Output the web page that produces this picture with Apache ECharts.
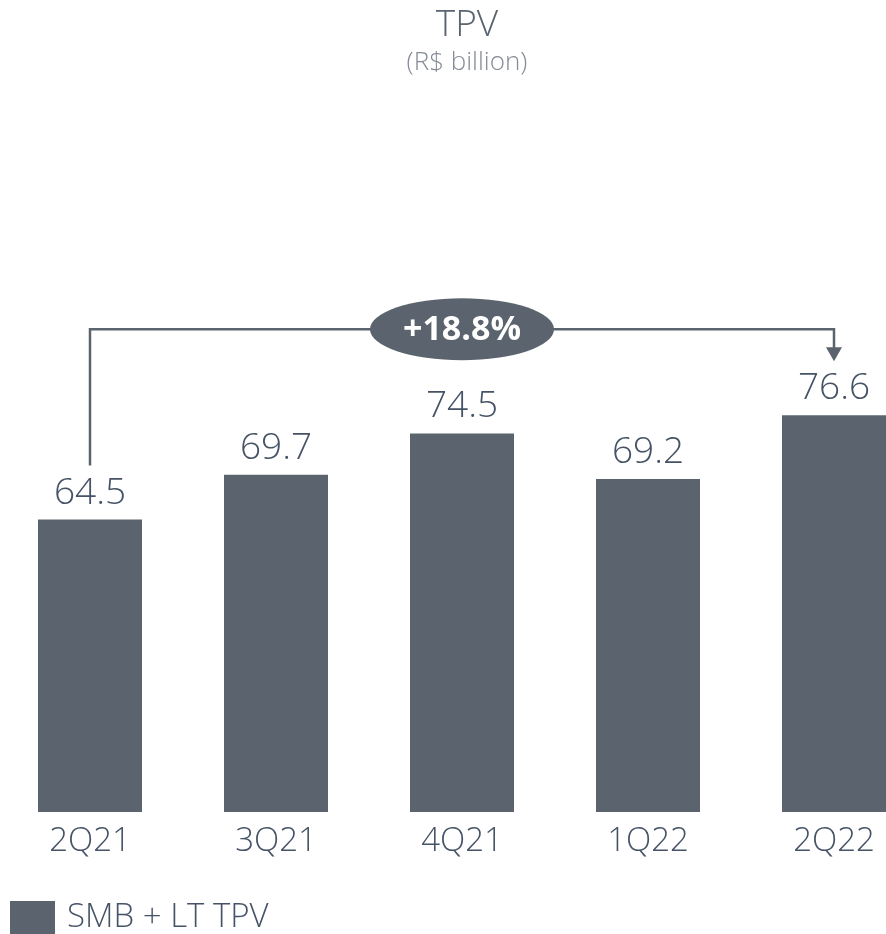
<!DOCTYPE html>
<html>
<head>
<meta charset="utf-8">
<script src="https://cdn.jsdelivr.net/npm/echarts@6/dist/echarts.min.js"></script>
<style>
  html, body { margin: 0; padding: 0; background: #fff; }
  #main { width: 886px; height: 934px; }
</style>
</head>
<body>
<div id="main"></div>
<script>
// data
var quarters = ['2Q21', '3Q21', '4Q21', '1Q22', '2Q22'];
var tpvValues = [64.5, 69.7, 74.5, 69.2, 76.6];
var growthLabel = '+18.8%';

var barColor = '#5b646e';
var textColor = '#465366';
var fontName = 'Open Sans';

var myChart = echarts.init(document.getElementById('main'));
var option = {
    animation: false,
    title: {
        text: 'TPV',
        subtext: '(R$ billion)',
        left: 462,
        top: 2,
        textAlign: 'center',
        itemGap: 6,
        textStyle: { fontFamily: fontName, fontWeight: 300, fontSize: 37, color: '#5a6470' },
        subtextStyle: { fontFamily: fontName, fontWeight: 300, fontSize: 26, color: '#858c96' }
    },
    legend: {
        left: 5,
        top: 896,
        itemWidth: 45,
        itemHeight: 33,
        itemGap: 10,
        icon: 'rect',
        data: ['SMB + LT TPV'],
        textStyle: { fontFamily: fontName, fontWeight: 300, fontSize: 33, color: textColor, padding: [0, 0, 0, 7] }
    },
    grid: {
        left: -3,
        width: 930,
        top: 214,
        bottom: 122,
        outerBoundsMode: 'none'
    },
    xAxis: {
        type: 'category',
        data: quarters,
        axisLine: { show: false },
        axisTick: { show: false },
        axisLabel: { fontFamily: fontName, fontWeight: 300, fontSize: 33, color: textColor, margin: 13 }
    },
    yAxis: {
        type: 'value',
        min: 30.5,
        max: 100,
        show: false,
        splitLine: { show: false }
    },
    series: [{
        name: 'SMB + LT TPV',
        type: 'bar',
        data: tpvValues,
        barWidth: 104,
        itemStyle: { color: barColor },
        label: {
            show: true,
            position: 'top',
            distance: 8,
            fontFamily: fontName,
            fontWeight: 300,
            fontSize: 37,
            color: textColor,
            formatter: function (p) { return p.value.toFixed(1); }
        }
    }]
};
myChart.setOption(option);

// growth bracket from first to last quarter, positioned from the scales
var first = myChart.convertToPixel({ seriesIndex: 0 }, [0, tpvValues[0]]);
var last = myChart.convertToPixel({ seriesIndex: 0 }, [quarters.length - 1, tpvValues[tpvValues.length - 1]]);
var mid = myChart.convertToPixel({ seriesIndex: 0 }, [2, 0]);
var lineY = last[1] - 86;
var startY = first[1] - 54;
var arrowTip = last[1] - 54;

myChart.setOption({
    graphic: [
        {
            type: 'polyline',
            shape: { points: [[first[0], startY], [first[0], lineY], [last[0], lineY], [last[0], arrowTip - 12]] },
            style: { stroke: barColor, lineWidth: 2.5, fill: null }
        },
        {
            type: 'polygon',
            shape: { points: [[last[0] - 8, arrowTip - 14], [last[0] + 8, arrowTip - 14], [last[0], arrowTip]] },
            style: { fill: barColor }
        },
        {
            type: 'ellipse',
            shape: { cx: mid[0], cy: lineY, rx: 92, ry: 31 },
            style: { fill: barColor }
        },
        {
            type: 'text',
            x: mid[0],
            y: lineY + 1,
            style: {
                text: growthLabel,
                fill: '#ffffff',
                font: 'bold 34px "Open Sans"',
                align: 'center',
                verticalAlign: 'middle'
            }
        }
    ]
});
</script>
</body>
</html>
